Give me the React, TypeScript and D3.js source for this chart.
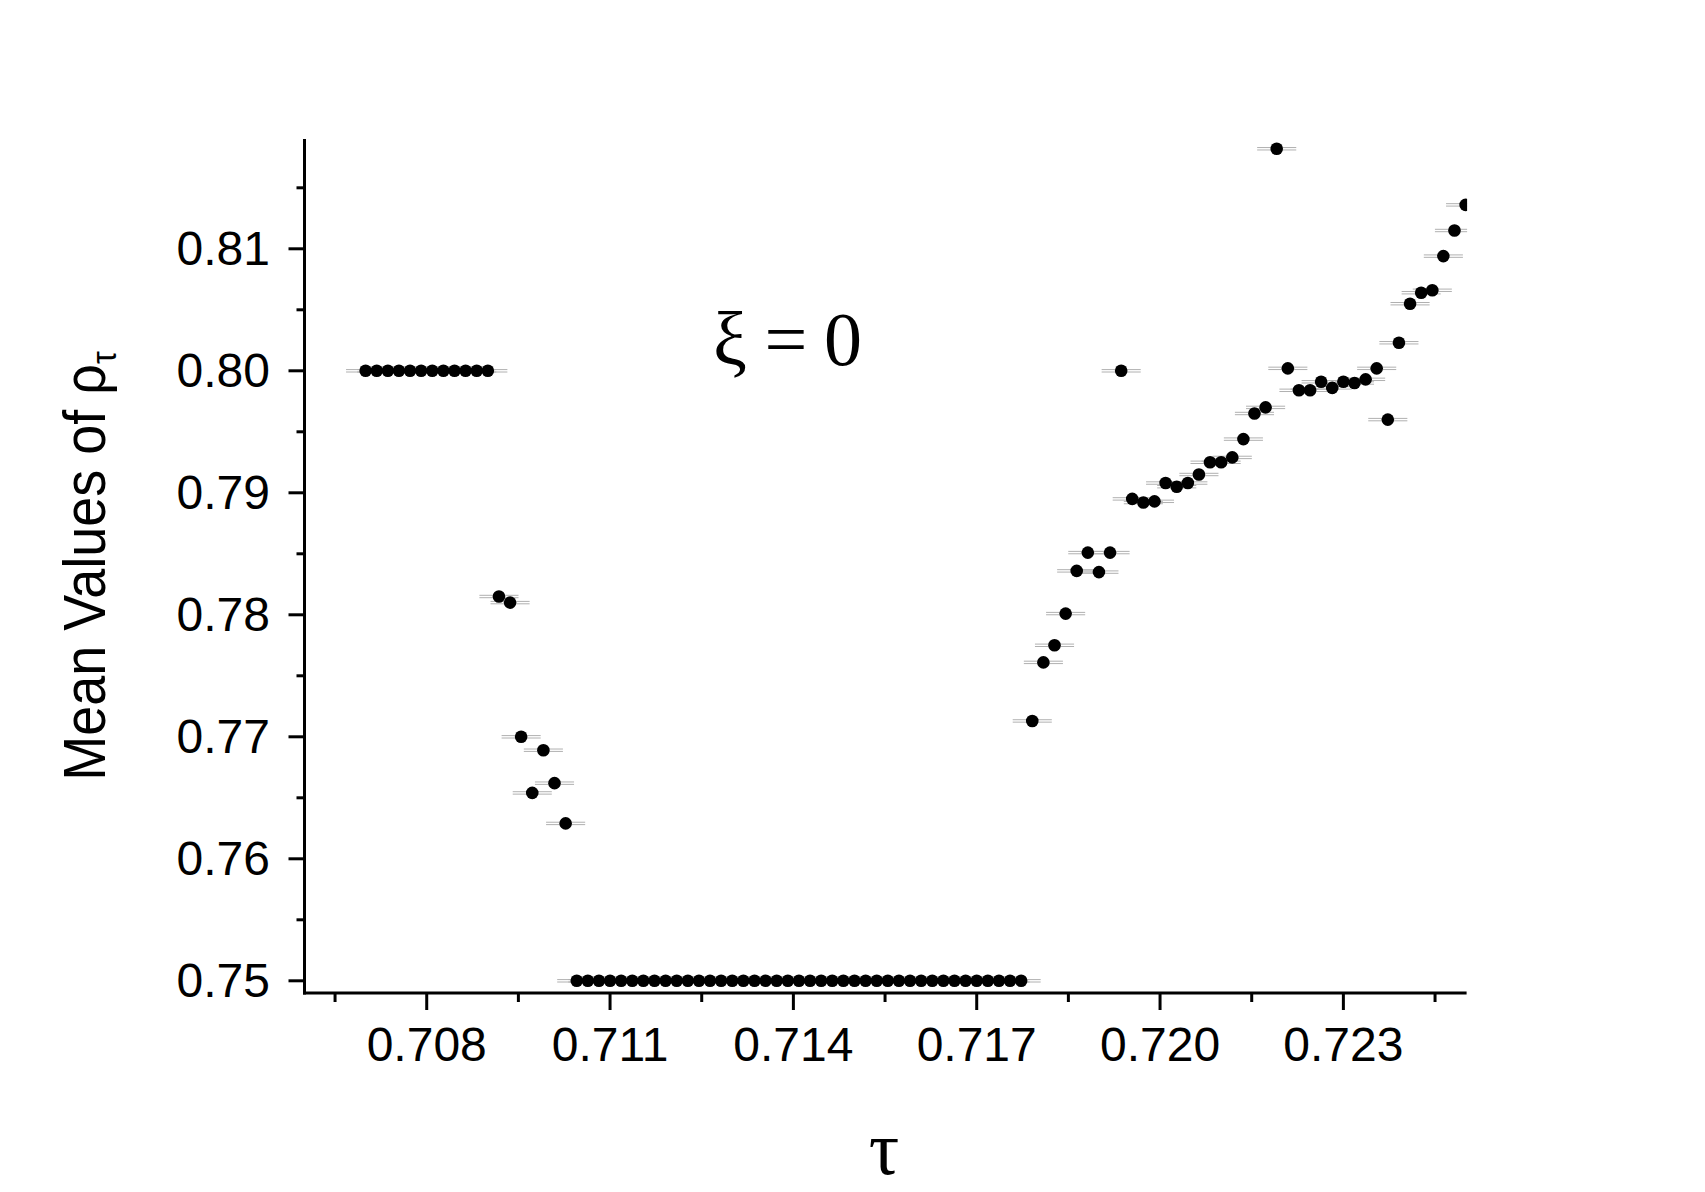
import React from "react";
import * as d3 from "d3";

// ---- data ----
// segment 1: upper plateau
const tauPlateauHigh = [0.707, 0.707182, 0.707364, 0.707545, 0.707727, 0.707909, 0.708091, 0.708273, 0.708455, 0.708636, 0.708818, 0.709];
const rhoPlateauHigh = [0.8, 0.8, 0.8, 0.8, 0.8, 0.8, 0.8, 0.8, 0.8, 0.8, 0.8, 0.8];
// segment 2: drop
const tauDrop = [0.709182, 0.709364, 0.709545, 0.709727, 0.709909, 0.710091, 0.710273];
const rhoDrop = [0.7815, 0.781, 0.77, 0.7654, 0.7689, 0.7662, 0.7629];
// segment 3: lower plateau
const tauPlateauLow = [
  0.710455, 0.710636, 0.710818, 0.711, 0.711182, 0.711364, 0.711545, 0.711727, 0.711909, 0.712091,
  0.712273, 0.712455, 0.712636, 0.712818, 0.713, 0.713182, 0.713364, 0.713545, 0.713727, 0.713909,
  0.714091, 0.714273, 0.714455, 0.714636, 0.714818, 0.715, 0.715182, 0.715364, 0.715545, 0.715727,
  0.715909, 0.716091, 0.716273, 0.716455, 0.716636, 0.716818, 0.717, 0.717182, 0.717364, 0.717545,
  0.717727,
];
const rhoPlateauLow = [
  0.75, 0.75, 0.75, 0.75, 0.75, 0.75, 0.75, 0.75, 0.75, 0.75,
  0.75, 0.75, 0.75, 0.75, 0.75, 0.75, 0.75, 0.75, 0.75, 0.75,
  0.75, 0.75, 0.75, 0.75, 0.75, 0.75, 0.75, 0.75, 0.75, 0.75,
  0.75, 0.75, 0.75, 0.75, 0.75, 0.75, 0.75, 0.75, 0.75, 0.75,
  0.75,
];
// segment 4: rise
const tauRise = [
  0.717909, 0.718091, 0.718273, 0.718455, 0.718636, 0.718818, 0.719, 0.719182, 0.719364, 0.719545,
  0.719727, 0.719909, 0.720091, 0.720273, 0.720455, 0.720636, 0.720818, 0.721, 0.721182, 0.721364,
  0.721545, 0.721727, 0.721909, 0.722091, 0.722273, 0.722455, 0.722636, 0.722818, 0.723, 0.723182,
  0.723364, 0.723545, 0.723727, 0.723909, 0.724091, 0.724273, 0.724455, 0.724636, 0.724818, 0.725,
];
const rhoRise = [
  0.7713, 0.7761, 0.7775, 0.7801, 0.7836, 0.7851, 0.7835, 0.7851, 0.8, 0.7895,
  0.7892, 0.7893, 0.7908, 0.7905, 0.7908, 0.7915, 0.7925, 0.7925, 0.7929, 0.7944,
  0.7965, 0.797, 0.8182, 0.8002, 0.7984, 0.7984, 0.7991, 0.7986, 0.7991, 0.799,
  0.7993, 0.8002, 0.796, 0.8023, 0.8055, 0.8064, 0.8066, 0.8094, 0.8115, 0.8136,
];
const tauError = 0.00032;

const xTickValues = [0.708, 0.711, 0.714, 0.717, 0.72, 0.723];
const xTickLabels = ["0.708", "0.711", "0.714", "0.717", "0.720", "0.723"];
const xMinorTicks = [0.7065, 0.7095, 0.7125, 0.7155, 0.7185, 0.7215, 0.7245];
const yTickValues = [0.75, 0.76, 0.77, 0.78, 0.79, 0.8, 0.81];
const yTickLabels = ["0.75", "0.76", "0.77", "0.78", "0.79", "0.80", "0.81"];
const yMinorTicks = [0.755, 0.765, 0.775, 0.785, 0.795, 0.805, 0.815];

const xDomain = [0.706, 0.725];
const yDomain = [0.749, 0.819];

const W = 1705;
const H = 1192;
const plot = { left: 304.5, right: 1465.6, top: 139, bottom: 993 };

const sans = '"Liberation Sans", Arial, Helvetica, sans-serif';
const serif = '"Liberation Serif", "Times New Roman", serif';

export default function App() {
  const x = d3.scaleLinear().domain(xDomain).range([plot.left, plot.right]);
  const y = d3.scaleLinear().domain(yDomain).range([plot.bottom, plot.top]);

  const taus = [...tauPlateauHigh, ...tauDrop, ...tauPlateauLow, ...tauRise];
  const rhos = [...rhoPlateauHigh, ...rhoDrop, ...rhoPlateauLow, ...rhoRise];
  const points = taus.map((t, i) => ({ t, r: rhos[i] }));

  const axisW = 3;

  return (
    <div style={{ position: "absolute", left: 0, top: 0, width: W, height: H, background: "#fff" }}>
      <svg width={W} height={H} viewBox={`0 0 ${W} ${H}`} style={{ display: "block" }}>
        <rect x={0} y={0} width={W} height={H} fill="#fff" />
        <defs>
          <clipPath id="plotClip">
            <rect x={plot.left} y={plot.top - 20} width={x(0.725) - plot.left + 1.5} height={plot.bottom - plot.top + 40} />
          </clipPath>
        </defs>

        {/* data */}
        <g clipPath="url(#plotClip)">
          {points.map((p, i) => (
            <g key={"e" + i}>
              <line x1={x(p.t - tauError)} x2={x(p.t + tauError)} y1={y(p.r) - 1.2} y2={y(p.r) - 1.2} stroke="#b0b0b0" strokeWidth={1} />
              <line x1={x(p.t - tauError)} x2={x(p.t + tauError)} y1={y(p.r) + 1.2} y2={y(p.r) + 1.2} stroke="#b0b0b0" strokeWidth={1} />
            </g>
          ))}
          {points.map((p, i) => (
            <circle key={"c" + i} cx={x(p.t)} cy={y(p.r)} r={6.3} fill="#000" />
          ))}
        </g>

        {/* axes lines */}
        <line x1={plot.left} x2={plot.left} y1={plot.top} y2={plot.bottom + axisW / 2} stroke="#000" strokeWidth={axisW} />
        <line x1={plot.left - axisW / 2} x2={plot.right + 1} y1={plot.bottom} y2={plot.bottom} stroke="#000" strokeWidth={axisW} />

        {/* y ticks */}
        {yTickValues.map((v, i) => (
          <g key={"yt" + i}>
            <line x1={plot.left - 16} x2={plot.left} y1={y(v)} y2={y(v)} stroke="#000" strokeWidth={axisW} />
            <text x={270} y={y(v)} dy="0.33em" textAnchor="end" fontFamily={sans} fontSize={48} fill="#000">
              {yTickLabels[i]}
            </text>
          </g>
        ))}
        {yMinorTicks.map((v, i) => (
          <line key={"ym" + i} x1={plot.left - 8} x2={plot.left} y1={y(v)} y2={y(v)} stroke="#000" strokeWidth={axisW} />
        ))}

        {/* x ticks */}
        {xTickValues.map((v, i) => (
          <g key={"xt" + i}>
            <line x1={x(v)} x2={x(v)} y1={plot.bottom} y2={plot.bottom + 17} stroke="#000" strokeWidth={axisW} />
            <text x={x(v)} y={1061} textAnchor="middle" fontFamily={sans} fontSize={48} fill="#000">
              {xTickLabels[i]}
            </text>
          </g>
        ))}
        {xMinorTicks.map((v, i) => (
          <line key={"xm" + i} x1={x(v)} x2={x(v)} y1={plot.bottom} y2={plot.bottom + 9} stroke="#000" strokeWidth={axisW} />
        ))}

        {/* axis titles */}
        <text x={884} y={1174} textAnchor="middle" fontFamily={serif} fontSize={76} fill="#000">
          τ
        </text>
        <g transform={`translate(105, ${(plot.top + plot.bottom) / 2}) rotate(-90) scale(0.9, 1)`}>
          <text x={0} y={0} textAnchor="middle" fontFamily={sans} fontSize={60} fill="#000">
            Mean Values of ρ
            <tspan fontSize={36} dy="11">τ</tspan>
          </text>
        </g>

        {/* annotation */}
        <text x={713} y={365} fontFamily={serif} fontSize={76} fill="#000">ξ</text>
        <text x={786} y={365} textAnchor="middle" fontFamily={serif} fontSize={76} fill="#000">=</text>
        <text x={843} y={365} textAnchor="middle" fontFamily={serif} fontSize={76} fill="#000">0</text>
      </svg>
    </div>
  );
}
